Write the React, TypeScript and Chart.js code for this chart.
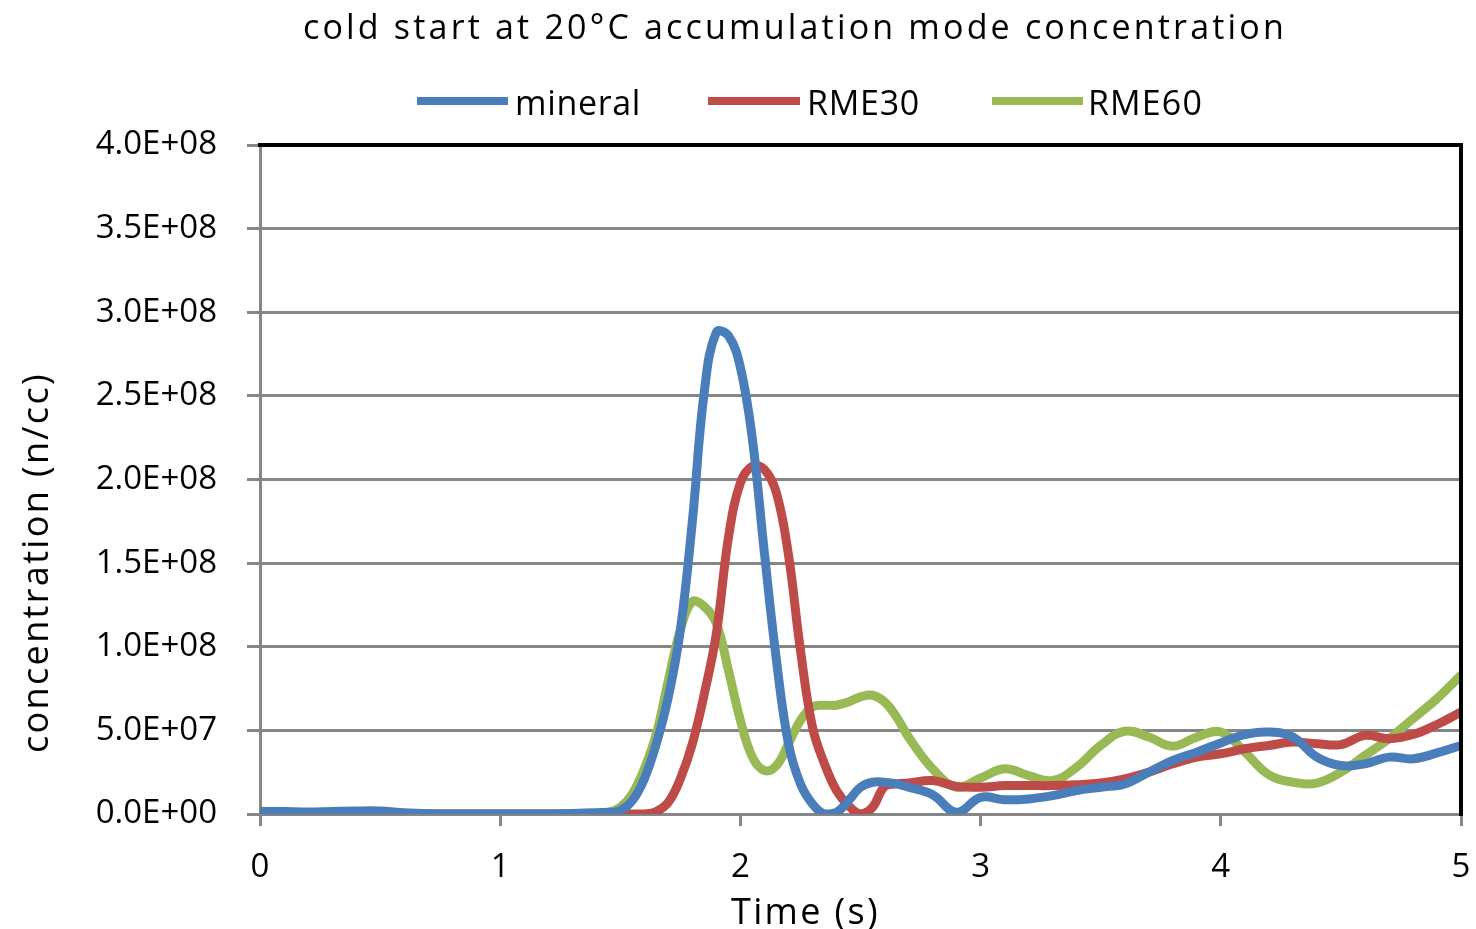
import React, { useEffect, useRef } from "react";
import { Chart, registerables } from "chart.js";

Chart.register(...registerables);

const chartTitle = "cold start at 20°C accumulation mode concentration";
const xAxisTitle = "Time (s)";
const yAxisTitle = "concentration (n/cc)";
const seriesNames = ["mineral", "RME30", "RME60"];
const seriesColors = ["#4A7EBB", "#BE4B48", "#98B954"];

// time in seconds
const times = [
  0, 0.1, 0.2, 0.3, 0.4, 0.5, 0.6, 0.7, 0.8, 0.9, 1.0, 1.1, 1.2, 1.3, 1.4,
  1.45, 1.5, 1.55, 1.6, 1.65, 1.7, 1.75, 1.8, 1.85, 1.9, 1.95, 2.0, 2.05, 2.1, 2.15,
  2.2, 2.25, 2.3, 2.35, 2.4, 2.45, 2.5, 2.55, 2.6, 2.65, 2.7,
  2.8, 2.9, 3.0, 3.1, 3.2, 3.3, 3.4, 3.5, 3.6, 3.7, 3.8, 3.9, 4.0, 4.1, 4.2, 4.3,
  4.4, 4.5, 4.6, 4.7, 4.8, 4.9, 5.0,
];

// concentrations in units of 1e7 n/cc
const mineral = [
  0.15, 0.15, 0.12, 0.15, 0.18, 0.18, 0.08, 0.02, 0, 0, 0, 0, 0, 0.03, 0.08,
  0.1, 0.2, 0.8, 2.1, 4.2, 7.0, 11.0, 17.5, 25.3, 28.8, 28.6, 26.7, 22.4, 15.6, 9.2,
  4.2, 1.8, 0.6, 0, 0.1, 0.8, 1.6, 1.9, 1.9, 1.8, 1.6,
  1.15, 0.1, 1.0, 0.85, 0.9, 1.1, 1.4, 1.6, 1.8, 2.5, 3.2, 3.7, 4.25, 4.75, 4.9, 4.6,
  3.4, 2.9, 3.0, 3.4, 3.3, 3.65, 4.1,
];

const rme30 = [
  0, 0, 0, 0, 0, 0, 0, 0, 0, 0, 0, 0, 0, 0, 0,
  0, 0, 0, 0, 0.15, 0.7, 2.1, 4.2, 7.2, 10.8, 16.5, 19.8, 20.8, 20.6, 19.2,
  15.5, 9.8, 5.2, 3.0, 1.4, 0.5, 0, 0.4, 1.65, 1.8, 1.85,
  2.0, 1.65, 1.6, 1.7, 1.7, 1.7, 1.75, 1.85, 2.1, 2.5, 3.0, 3.4, 3.6, 3.9, 4.1, 4.3,
  4.2, 4.15, 4.7, 4.5, 4.75, 5.35, 6.1,
];

const rme60 = [
  0, 0, 0, 0, 0, 0, 0, 0, 0, 0, 0, 0, 0, 0, 0,
  0.1, 0.4, 1.2, 2.7, 4.8, 8.0, 11.0, 12.7, 12.4, 11.4, 8.6, 5.6, 3.4, 2.6, 2.9,
  4.2, 5.6, 6.4, 6.5, 6.5, 6.7, 7.0, 7.1, 6.7, 5.8, 4.6,
  2.7, 1.6, 2.15, 2.7, 2.3, 2.0, 2.8, 4.1, 4.95, 4.6, 4.05, 4.6, 4.9, 3.7, 2.35, 1.9,
  1.85, 2.5, 3.5, 4.5, 5.7, 6.9, 8.3,
];

const seriesValues = [mineral, rme30, rme60];
const UNIT = 1e7;

const FONT = '"Open Sans", sans-serif';

function formatSci(v: number): string {
  const [m, e] = v.toExponential(1).split("e");
  const sign = e[0] === "-" ? "-" : "+";
  const digits = e.replace(/^[+-]/, "").padStart(2, "0");
  return `${m}E${sign}${digits}`;
}

function fitText(ctx: CanvasRenderingContext2D, text: string, x: number, y: number, width: number, size: number) {
  ctx.font = `${size}px ${FONT}`;
  (ctx as any).letterSpacing = "0px";
  const w = ctx.measureText(text).width;
  const ls = (width - w) / text.length;
  (ctx as any).letterSpacing = `${ls}px`;
  ctx.textAlign = "left";
  ctx.textBaseline = "alphabetic";
  ctx.fillText(text, x, y);
  (ctx as any).letterSpacing = "0px";
}

const decorPlugin = {
  id: "decor",
  afterDraw(chart: any) {
    const ctx: CanvasRenderingContext2D = chart.ctx;
    const { left, right, top, bottom } = chart.chartArea;
    ctx.save();
    // frame (top and right)
    ctx.strokeStyle = "#000";
    ctx.lineWidth = 4;
    ctx.lineCap = "square";
    ctx.beginPath();
    ctx.moveTo(left, top);
    ctx.lineTo(right, top);
    ctx.lineTo(right, bottom);
    ctx.stroke();

    ctx.fillStyle = "#000";
    // title
    fitText(ctx, chartTitle, 303, 39, 984, 34);

    // legend
    const legendLines = [
      [417, 508, 515, 126],
      [708, 800, 807, 113],
      [992, 1083, 1088, 115],
    ];
    legendLines.forEach((l, i) => {
      ctx.strokeStyle = seriesColors[i];
      ctx.lineWidth = 8;
      ctx.lineCap = "butt";
      ctx.beginPath();
      ctx.moveTo(l[0], 101);
      ctx.lineTo(l[1], 101);
      ctx.stroke();
      ctx.fillStyle = "#000";
      fitText(ctx, seriesNames[i], l[2], 115, l[3], 34);
    });

    // axis titles
    fitText(ctx, xAxisTitle, 731, 924, 149, 36);
    ctx.save();
    ctx.translate(48, 753);
    ctx.rotate(-Math.PI / 2);
    fitText(ctx, yAxisTitle, 0, 0, 381, 36);
    ctx.restore();

    ctx.restore();
  },
};

export default function App() {
  const canvasRef = useRef<HTMLCanvasElement | null>(null);

  useEffect(() => {
    document.body.style.margin = "0";
    const canvas = canvasRef.current;
    if (!canvas) return;
    const datasets = seriesNames.map((name, i) => ({
      label: name,
      data: times.map((t, j) => ({ x: t, y: seriesValues[i][j] * UNIT })),
      borderColor: seriesColors[i],
      backgroundColor: seriesColors[i],
      borderWidth: 9,
      pointRadius: 0,
      tension: 0.4,
      borderCapStyle: "round" as const,
      borderJoinStyle: "round" as const,
      fill: false,
    }));
    const chart = new Chart(canvas, {
      type: "line",
      data: { datasets },
      options: {
        responsive: false,
        animation: false,
        devicePixelRatio: 1,
        layout: { padding: { top: 145, right: 15, left: 0, bottom: 0 } },
        plugins: {
          legend: { display: false },
          title: { display: false },
          tooltip: { enabled: false },
        },
        scales: {
          x: {
            type: "linear",
            min: 0,
            max: 5,
            afterFit: (scale: any) => {
              scale.height = 115;
              scale.paddingLeft = 0;
              scale.paddingRight = 0;
            },
            ticks: {
              stepSize: 1,
              padding: 22,
              color: "#000",
              font: { family: FONT, size: 33 },
              maxRotation: 0,
            },
            grid: {
              drawOnChartArea: false,
              drawTicks: true,
              tickLength: 12,
              color: "#868686",
              lineWidth: 3,
            },
            border: { color: "#868686", width: 3 },
          },
          y: {
            type: "linear",
            min: 0,
            max: 4e8,
            afterFit: (scale: any) => {
              scale.width = 260;
              scale.paddingTop = 0;
              scale.paddingBottom = 0;
            },
            ticks: {
              stepSize: 5e7,
              padding: 30,
              color: "#000",
              font: { family: FONT, size: 33 },
              callback: (v: any) => formatSci(Number(v)),
            },
            grid: {
              color: "#868686",
              lineWidth: 3,
              tickLength: 13,
            },
            border: { color: "#868686", width: 3 },
          },
        },
      },
      plugins: [decorPlugin],
    });
    return () => chart.destroy();
  }, []);

  return <canvas ref={canvasRef} width={1476} height={929} style={{ display: "block" }} />;
}
